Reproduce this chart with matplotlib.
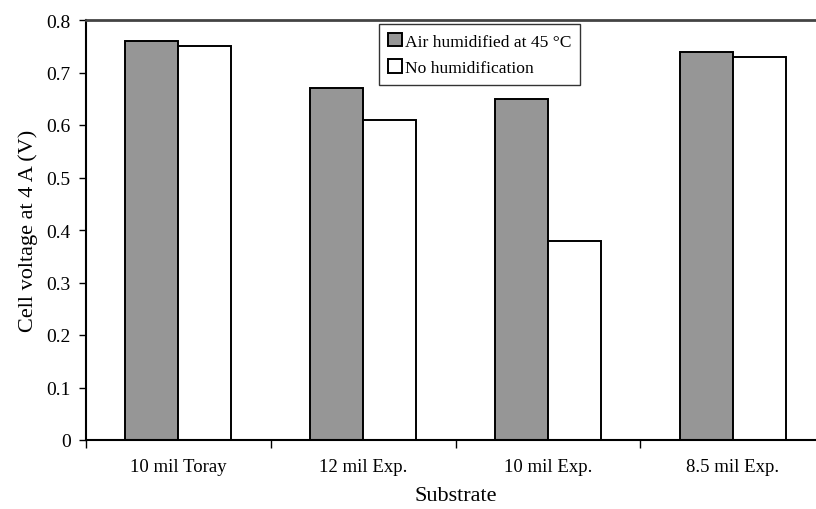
import matplotlib
matplotlib.use("Agg")
import matplotlib.pyplot as plt
import numpy as np

categories = ["10 mil Toray", "12 mil Exp.", "10 mil Exp.", "8.5 mil Exp."]
humidified = [0.76, 0.67, 0.65, 0.74]
no_humid = [0.75, 0.61, 0.38, 0.73]
series_labels = ["Air humidified at 45 \u00b0C", "No humidification"]
yticks = [0, 0.1, 0.2, 0.3, 0.4, 0.5, 0.6, 0.7, 0.8]
ytick_labels = ["0", "0.1", "0.2", "0.3", "0.4", "0.5", "0.6", "0.7", "0.8"]

plt.rcParams['font.family'] = ['Liberation Serif', 'DejaVu Serif']

fig = plt.figure(figsize=(8.16, 5.10), dpi=100)
ax = fig.add_axes([86/816, 69/510, (825-86)/816, (441-21)/510])

x = np.arange(len(categories))
w = 0.287
ax.bar(x - w/2, humidified, width=w, color="#969696", edgecolor="black", linewidth=1.4, label=series_labels[0])
ax.bar(x + w/2, no_humid, width=w, color="white", edgecolor="black", linewidth=1.4, label=series_labels[1])

ax.set_xlim(-0.5, 3.5)
ax.set_ylim(0, 0.8)
ax.set_yticks(yticks)
ax.set_yticklabels(ytick_labels, fontsize=14)
ax.set_xticks(np.arange(-0.5, 4.0, 1.0))
ax.set_xticklabels([])
ax.set_xticks(x, minor=True)
ax.set_xticklabels(categories, minor=True, fontsize=13.5)
ax.tick_params(axis='x', which='minor', length=0, pad=13)
ax.tick_params(axis='x', which='major', direction='out', length=6, width=1)
ax.tick_params(axis='y', direction='out', length=5, width=1, pad=6)

ax.spines['right'].set_visible(False)
ax.spines['top'].set_color('#444444')
ax.spines['top'].set_linewidth(2)
ax.spines['left'].set_linewidth(1.5)
ax.spines['bottom'].set_linewidth(1.5)

ax.set_ylabel("Cell voltage at 4 A (V)", fontsize=16, labelpad=6)
ax.set_xlabel("Substrate", fontsize=16, labelpad=8)

leg = ax.legend(loc='upper left', bbox_to_anchor=((379-86)/739, 1 - 4/420), fontsize=12.6,
                frameon=True, fancybox=False, edgecolor='black', handlelength=0.8,
                handleheight=0.8, handletextpad=0.2, borderpad=0.5, labelspacing=0.55,
                borderaxespad=0)
leg.get_frame().set_linewidth(1.0)

fig.savefig("out.png", dpi=100)
